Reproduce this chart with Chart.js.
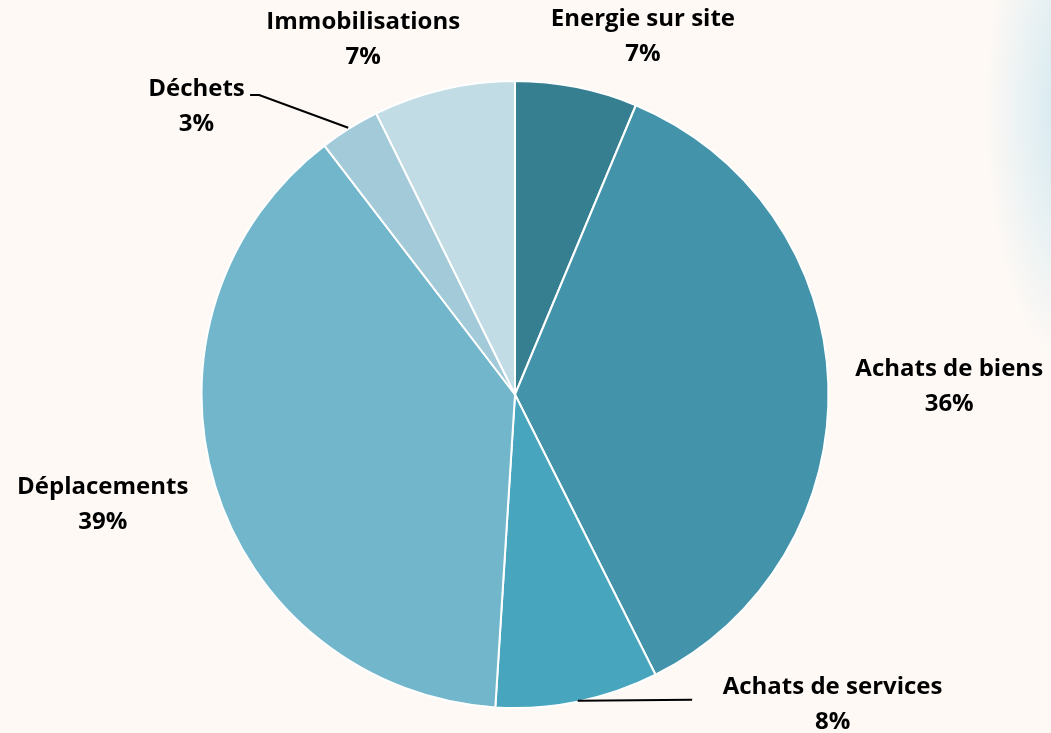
<!DOCTYPE html>
<html>
<head>
<meta charset="utf-8">
<script src="https://cdn.jsdelivr.net/npm/chart.js@4.4.0/dist/chart.umd.min.js"></script>
<style>
  html, body { margin: 0; padding: 0; }
  body {
    width: 1051px; height: 733px; overflow: hidden;
    background:
      radial-gradient(ellipse 90px 260px at 1075px 110px, rgba(190, 225, 238, 0.75), rgba(254, 249, 245, 0) 100%),
      #fef9f5;
  }
  #wrap { position: absolute; left: 0; top: 0; width: 1051px; height: 733px; }
</style>
</head>
<body>
<div id="wrap"><canvas id="pieChart" width="1051" height="733"></canvas></div>
<script>
// Données du graphique (part des émissions par poste)
const categories = ['Energie sur site', 'Achats de biens', 'Achats de services', 'Déplacements', 'Déchets', 'Immobilisations'];
const values = [6.3, 36.3, 8.4, 38.6, 3.1, 7.3];
const percentLabels = ['7%', '36%', '8%', '39%', '3%', '7%'];
const colors = ['#367f91', '#4393aa', '#48a5be', '#72b6cc', '#a2cad9', '#c2dce5'];

// Position des étiquettes (relative au centre, en fraction du rayon)
const labelPos = [
    [0.408, -1.146],
    [1.385, -0.03],
    [1.013, 0.984],
    [-1.315, 0.347],
    [-1.016, -0.922],
    [-0.484, -1.138]
];

// Lignes de rappel (fraction du rayon) : liste de points
const leaderLines = {
    2: [[0.2, 0.977], [0.565, 0.974]],
    4: [[-0.532, -0.851], [-0.816, -0.955], [-0.845, -0.955]]
};

const labelPlugin = {
    id: 'outsideLabels',
    afterDatasetsDraw(chart) {
        const ctx = chart.ctx;
        const arcs = chart.getDatasetMeta(0).data;
        const cx = arcs[0].x, cy = arcs[0].y, r = arcs[0].outerRadius;
        ctx.save();
        ctx.strokeStyle = '#000';
        ctx.lineWidth = 2;
        Object.keys(leaderLines).forEach(k => {
            const pts = leaderLines[k];
            ctx.beginPath();
            pts.forEach((p, i) => {
                const x = cx + p[0] * r, y = cy + p[1] * r;
                if (i === 0) ctx.moveTo(x, y); else ctx.lineTo(x, y);
            });
            ctx.stroke();
        });
        ctx.fillStyle = '#000';
        ctx.font = 'bold 24px "Open Sans"';
        ctx.textAlign = 'center';
        ctx.textBaseline = 'middle';
        categories.forEach((cat, i) => {
            const x = cx + labelPos[i][0] * r;
            const y = cy + labelPos[i][1] * r;
            ctx.fillText(cat, x, y - 16);
            ctx.fillText(percentLabels[i], x, y + 19);
        });
        ctx.restore();
    }
};

new Chart(document.getElementById('pieChart'), {
    type: 'pie',
    data: {
        labels: categories,
        datasets: [{
            data: values,
            backgroundColor: colors,
            borderColor: '#ffffff',
            borderWidth: 2
        }]
    },
    options: {
        responsive: false,
        animation: false,
        layout: { padding: { top: 80, bottom: 24, left: 200, right: 221 } },
        plugins: {
            legend: { display: false },
            tooltip: { enabled: false }
        }
    },
    plugins: [labelPlugin]
});
</script>
</body>
</html>
